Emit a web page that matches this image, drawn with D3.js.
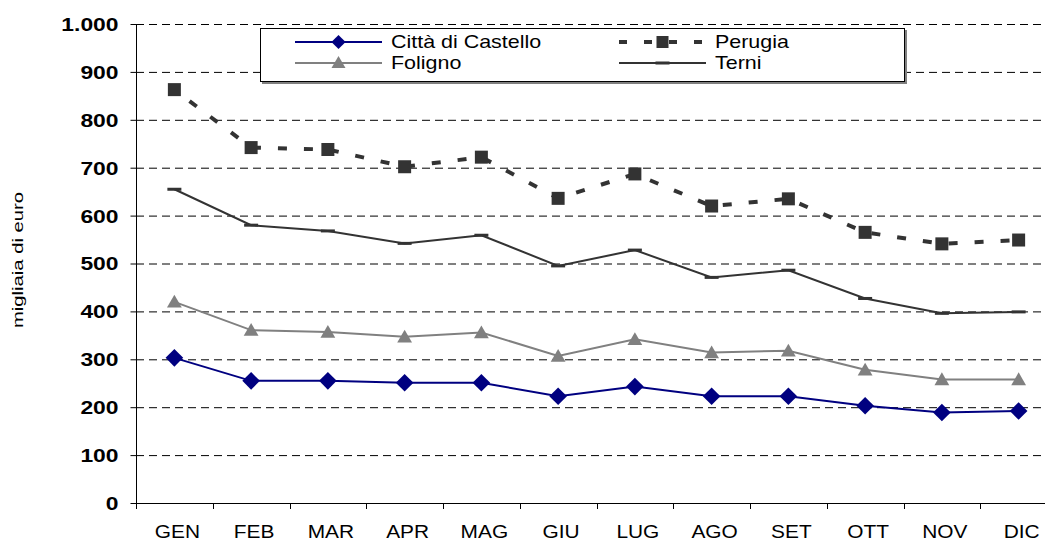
<!DOCTYPE html>
<html><head><meta charset="utf-8">
<script src="https://cdn.jsdelivr.net/npm/d3@7"></script>
<style>body{margin:0;background:#fff;} svg{display:block;}</style>
</head><body>
<svg id="c" width="1045" height="542"></svg>
<script>
const months = ["GEN","FEB","MAR","APR","MAG","GIU","LUG","AGO","SET","OTT","NOV","DIC"];
const yTicks = [0,100,200,300,400,500,600,700,800,900,1000];
const cittaValues   = [303,255,255,251,251,223,243,223,223,203,189,192];
const perugiaValues = [863,742,738,702,722,636,687,620,635,565,541,549];
const folignoValues = [420,361,357,347,356,307,342,314,318,278,258,258];
const terniValues   = [655,580,568,542,559,495,528,471,486,427,396,399];
const seriesNames = ["Città di Castello","Perugia","Foligno","Terni"];

(function(){
const FONT = "Liberation Sans, Arial, sans-serif";
const svg = d3.select("#c");
const pL = 136, pR = 1057, pT = 24, pB = 503;
const x = d3.scaleBand().domain(months).range([pL, pR]);
const y = d3.scaleLinear().domain([0,1000]).range([pB, pT]);
const fmt = v => v >= 1000 ? d3.format(",")(v).replace(",", ".") : String(v);
function stretch(sel, f){
  sel.each(function(){
    const ax = +(this.getAttribute("x")||0);
    this.setAttribute("transform", `translate(${ax},0) scale(${f},1) translate(${-ax},0)`);
  });
}

// gridlines
svg.append("g").selectAll("line").data(yTicks.filter(d=>d>0)).join("line")
  .attr("x1", pL).attr("x2", pR)
  .attr("y1", d=>y(d)+0.5).attr("y2", d=>y(d)+0.5)
  .attr("stroke", "#000").attr("stroke-width", 1).attr("stroke-dasharray", "8,5");

// y axis
const ya = svg.append("g").attr("transform", `translate(${pL+0.5},0)`)
  .call(d3.axisLeft(y).tickValues(yTicks).tickFormat(fmt).tickSize(6).tickPadding(12));
ya.select(".domain").attr("stroke", "#000").attr("d", `M0,${pT}V${pB}`);
ya.selectAll("text").attr("font-family", FONT)
  .attr("font-size", 18).attr("font-weight", "bold").attr("fill", "#000").attr("dy","0.36em");
stretch(ya.selectAll("text"), 1.27);

// x axis
const xa = svg.append("g").attr("transform", `translate(0,${pB+0.5})`)
  .call(d3.axisBottom(x).tickSize(0));
xa.select(".domain").attr("stroke", "#000").attr("d", `M${pL},0H${pR}`);
xa.selectAll("text").attr("font-family", FONT)
  .attr("font-size", 18).attr("fill", "#000").attr("x", 3).attr("y", 34.5).attr("dy", null);
stretch(xa.selectAll("text"), 1.16);
svg.append("g").selectAll("line").data(months).join("line")
  .attr("x1", d=>Math.round(x(d))+0.5).attr("x2", d=>Math.round(x(d))+0.5)
  .attr("y1", pB).attr("y2", pB+6).attr("stroke", "#000");

// y title
const yt = svg.append("text").attr("text-anchor", "middle").attr("font-family", FONT)
  .attr("font-size", 15).attr("fill","#000").text("migliaia di euro");
const tl = yt.node().getComputedTextLength();
yt.attr("transform", `translate(23,260) rotate(-90) scale(${136/tl},1)`);

const cx = d => x(d) + x.bandwidth()/2;
const line = d3.line().x((v,i)=>cx(months[i])).y(v=>y(v));

// Terni
svg.append("path").datum(terniValues).attr("d", line).attr("fill","none")
  .attr("stroke","#333").attr("stroke-width",2);
svg.append("g").selectAll("rect").data(terniValues).join("rect")
  .attr("x",(v,i)=>cx(months[i])-7).attr("y",v=>y(v)-1.5).attr("width",14).attr("height",3).attr("fill","#333");

// Perugia
svg.append("path").datum(perugiaValues).attr("d", line).attr("fill","none")
  .attr("stroke","#333").attr("stroke-width",4).attr("stroke-dasharray","9,17").attr("stroke-dashoffset",-19);
svg.append("g").selectAll("rect").data(perugiaValues).join("rect")
  .attr("x",(v,i)=>cx(months[i])-6.5).attr("y",v=>y(v)-6.5).attr("width",13).attr("height",13).attr("fill","#333");

// Foligno
svg.append("path").datum(folignoValues).attr("d", line).attr("fill","none")
  .attr("stroke","#808080").attr("stroke-width",2);
const tri = d3.symbol().type(d3.symbolTriangle).size(95);
svg.append("g").selectAll("path").data(folignoValues).join("path")
  .attr("transform",(v,i)=>`translate(${cx(months[i])},${y(v)+1.5})`).attr("d", tri).attr("fill","#808080");

// Città
svg.append("path").datum(cittaValues).attr("d", line).attr("fill","none")
  .attr("stroke","#000080").attr("stroke-width",2);
svg.append("g").selectAll("path").data(cittaValues).join("path")
  .attr("transform",(v,i)=>`translate(${cx(months[i])},${y(v)}) rotate(45)`)
  .attr("d", d3.symbol().type(d3.symbolSquare).size(155)).attr("fill","#000080");

// Legend
const lg = svg.append("g");
lg.append("rect").attr("x",262).attr("y",30).attr("width",645).attr("height",54).attr("fill","#808080");
lg.append("rect").attr("x",260.5).attr("y",28.5).attr("width",644).attr("height",53).attr("fill","#fff").attr("stroke","#000");
const items = [
  {name:seriesNames[0], x0:295, yy:42, color:"#000080", w:2, dash:null, mk:"diamond"},
  {name:seriesNames[1], x0:619, yy:42, color:"#333", w:4, dash:"8,17", mk:"square"},
  {name:seriesNames[2], x0:295, yy:63, color:"#808080", w:2, dash:null, mk:"tri"},
  {name:seriesNames[3], x0:619, yy:63, color:"#333", w:2, dash:null, mk:"bar"}
];
items.forEach(it=>{
  const l = lg.append("line").attr("x1",it.x0).attr("x2",it.x0+87).attr("y1",it.yy).attr("y2",it.yy)
    .attr("stroke",it.color).attr("stroke-width",it.w);
  if (it.dash) l.attr("stroke-dasharray",it.dash);
  const mx = it.x0+43.5;
  if (it.mk==="diamond") lg.append("path").attr("transform",`translate(${mx},${it.yy}) rotate(45)`).attr("d",d3.symbol().type(d3.symbolSquare).size(100)).attr("fill",it.color);
  if (it.mk==="square") lg.append("rect").attr("x",mx-6).attr("y",it.yy-6).attr("width",12).attr("height",12).attr("fill",it.color);
  if (it.mk==="tri") lg.append("path").attr("transform",`translate(${mx},${it.yy+1})`).attr("d",d3.symbol().type(d3.symbolTriangle).size(85)).attr("fill",it.color);
  if (it.mk==="bar") lg.append("rect").attr("x",mx-7).attr("y",it.yy-1.5).attr("width",14).attr("height",3).attr("fill",it.color);
  const t = lg.append("text").attr("x",it.x0+96).attr("y",it.yy+6.5)
    .attr("font-family",FONT).attr("font-size",18.5).attr("fill","#000").text(it.name);
  stretch(t, 1.16);
});
})();
</script>
</body></html>
